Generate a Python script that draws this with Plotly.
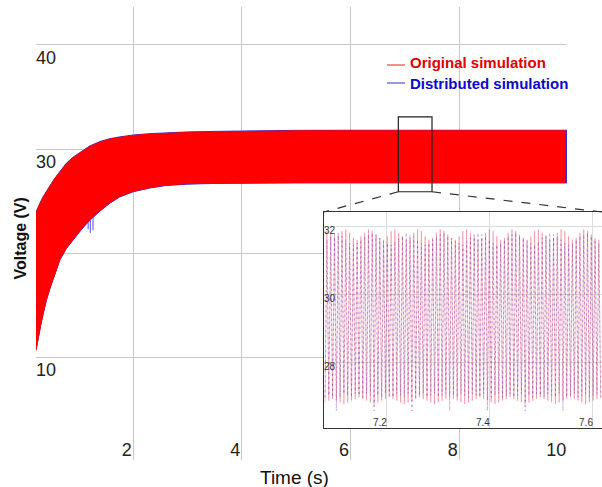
import numpy as np
import plotly.graph_objects as go

FONT = "Arial, Liberation Sans, sans-serif"

# ---------------- main chart data ----------------
x_ticks = [2, 4, 6, 8, 10]
x_tick_labels = ["2", "4", "6", "8", "10"]
y_ticks = [10, 20, 30, 40]
y_tick_labels = ["10", "20", "30", "40"]

# envelope of the "Original simulation" oscillation band
t_orig = [0.21, 0.25, 0.3, 0.35, 0.4, 0.47, 0.55, 0.65, 0.77, 0.9, 1.05, 1.2, 1.39, 1.57,
          1.75, 2.0, 2.3, 2.6, 3.0, 3.5, 4.0, 5.0, 6.0, 9.955]
orig_upper = [23.9, 24.4, 24.95, 25.45, 25.9, 26.45, 27.1, 27.8, 28.6, 29.2, 29.75, 30.25,
              30.68, 30.95, 31.12, 31.3, 31.43, 31.52, 31.6, 31.65, 31.7, 31.75, 31.76, 31.76]
orig_lower = [10.7, 11.9, 13.2, 14.4, 15.5, 16.7, 17.9, 19.4, 20.5, 21.4, 22.35, 23.2,
              24.1, 24.85, 25.45, 25.95, 26.3, 26.55, 26.68, 26.75, 26.78, 26.8, 26.8, 26.8]

# envelope of the "Distributed simulation" band (mostly hidden under red)
t_dist = [0.21, 0.25, 0.3, 0.35, 0.4, 0.47, 0.55, 0.65, 0.77, 0.9, 1.05, 1.2, 1.39, 1.57,
          1.75, 2.0, 2.3, 2.6, 3.0, 3.5, 4.0, 5.0, 6.0, 9.985]
dist_upper = [23.95, 24.45, 25.0, 25.5, 25.95, 26.5, 27.15, 27.85, 28.65, 29.25, 29.8, 30.3,
              30.73, 31.0, 31.17, 31.35, 31.48, 31.57, 31.65, 31.7, 31.75, 31.8, 31.81, 31.81]
dist_lower = [10.65, 11.85, 13.15, 14.35, 15.45, 16.65, 17.85, 19.35, 20.45, 21.35, 22.3, 23.15,
              24.05, 24.8, 25.4, 25.9, 26.25, 26.5, 26.63, 26.7, 26.73, 26.75, 26.75, 26.75]

# a few blue spikes poking out below the band
spike_t = [1.17, 1.21, 1.26]
spike_top = [23.2, 23.4, 23.6]
spike_bottom = [22.3, 21.95, 22.2]

# zoom window marked on the main chart
zoom_x = [6.88, 7.50]
zoom_y = [25.9, 33.1]

# ---------------- inset data ----------------
inset_x_ticks = [7.2, 7.4, 7.6]
inset_x_labels = ["7.2", "7.4", "7.6"]
inset_y_ticks = [28, 30, 32]
inset_y_labels = ["28", "30", "32"]
inset_t_start, inset_t_end = 7.08, 7.615

red_peak = [31.85, 31.8, 31.7, 31.75, 31.85, 31.9, 31.8, 31.65, 31.6, 31.7,
            31.8, 31.9, 31.85, 31.75, 31.65, 31.6, 31.7, 31.85, 31.9, 31.8,
            31.7, 31.6, 31.65, 31.8, 31.9, 31.85, 31.7, 31.6, 31.65, 31.8,
            31.9, 31.85, 31.75, 31.65, 31.6, 31.7, 31.85, 31.9, 31.8, 31.7,
            31.6, 31.65, 31.8, 31.9, 31.85, 31.7, 31.6, 31.65, 31.8, 31.9,
            31.85, 31.75, 31.65, 31.6, 31.7, 31.85, 31.9, 31.8, 31.7, 31.6,
            31.65, 31.8, 31.9, 31.85, 31.7, 31.6, 31.65, 31.8, 31.9, 31.85,
            31.75, 31.65, 31.6]
red_trough = [26.85, 26.9, 26.95, 26.9, 26.85, 26.8, 26.85, 26.9, 26.95, 27.0,
              26.95, 26.9, 26.85, 26.8, 26.85, 26.9, 26.95, 27.0, 26.95, 26.9,
              26.85, 26.8, 26.85, 26.9, 26.95, 27.0, 26.95, 26.9, 26.85, 26.8,
              26.85, 26.9, 26.95, 27.0, 26.95, 26.9, 26.85, 26.8, 26.85, 26.9,
              26.95, 27.0, 26.95, 26.9, 26.85, 26.8, 26.85, 26.9, 26.95, 27.0,
              26.95, 26.9, 26.85, 26.8, 26.85, 26.9, 26.95, 27.0, 26.95, 26.9,
              26.85, 26.8, 26.85, 26.9, 26.95, 27.0, 26.95, 26.9, 26.85, 26.8,
              26.85, 26.9, 26.95, 27.0]
blue_high = [31.6, 31.7, 31.75, 31.8, 31.7, 31.6, 31.5, 31.45, 31.5, 31.6,
             31.7, 31.75, 31.8, 31.75, 31.65, 31.55, 31.5, 31.45, 31.55, 31.65,
             31.7, 31.8, 31.75, 31.7, 31.6, 31.5, 31.45, 31.5, 31.6, 31.7,
             31.75, 31.8, 31.7, 31.65, 31.55, 31.5, 31.45, 31.55, 31.65, 31.75,
             31.8, 31.75, 31.7, 31.6, 31.5, 31.45, 31.5, 31.6, 31.7, 31.75,
             31.8, 31.7, 31.65, 31.55, 31.5, 31.45, 31.55, 31.65, 31.75, 31.8,
             31.75, 31.7, 31.6, 31.5, 31.45, 31.5, 31.6, 31.7, 31.75, 31.8,
             31.7, 31.6, 31.5]
blue_low = [27.0, 27.05, 27.0, 26.6, 27.0, 27.1, 27.05, 27.0, 27.1, 27.05,
            27.0, 27.1, 27.05, 26.6, 27.05, 27.0, 27.1, 27.05, 27.0, 27.1,
            27.05, 27.0, 27.1, 26.6, 27.0, 27.05, 27.1, 27.0, 27.05, 27.1,
            27.0, 27.05, 27.1, 26.6, 27.05, 27.0, 27.1, 27.05, 27.0, 27.1,
            27.05, 27.0, 27.1, 26.6, 27.0, 27.05, 27.1, 27.0, 27.05, 27.1,
            27.0, 27.05, 27.1, 26.6, 27.05, 27.0, 27.1, 27.05, 27.0, 27.1,
            27.05, 27.0, 27.1, 26.6, 27.0, 27.05, 27.1, 27.0, 27.05, 27.1,
            27.0, 27.05, 27.1, 26.9]

# ---------------- layout geometry ----------------
X_RANGE = [0.21, 9.985]
Y_RANGE = [0.13, 43.65]
X_DOM = [36 / 602, 567 / 602]
Y_DOM = [27 / 487, 480 / 487]
IX_RANGE = [7.078, 7.6175]
IY_RANGE = [26.10, 32.41]
IX_DOM = [324 / 602, 1.0]
IY_DOM = [59 / 487, 275 / 487]

# pixel offsets of the in-plot tick labels, converted to data units
PX_PER_Y = (Y_DOM[1] - Y_DOM[0]) * 487 / (Y_RANGE[1] - Y_RANGE[0])
PX_PER_X = (X_DOM[1] - X_DOM[0]) * 602 / (X_RANGE[1] - X_RANGE[0])
Y_LABEL_DROP = 5.5 / PX_PER_Y
X_LABEL_SHIFT = 1.5 / PX_PER_X


def interleave(lows, highs):
    out = []
    for i in range(len(highs)):
        out.append(lows[i])
        out.append(highs[i])
    out.append(lows[len(highs)])
    return out


red_inset = interleave(red_trough, red_peak)
blue_inset = interleave(blue_low, blue_high)
inset_t = np.linspace(inset_t_start, inset_t_end, len(red_inset))

fig = go.Figure()

# main y tick labels (drawn first so the band covers "20")
fig.add_trace(go.Scatter(
    x=[X_RANGE[0]] * len(y_ticks), y=[v - Y_LABEL_DROP for v in y_ticks], text=y_tick_labels,
    mode="text", textposition="bottom right", textfont=dict(size=18, color="#222", family=FONT),
    cliponaxis=False, showlegend=False, hoverinfo="skip"))

# distributed band (blue) underneath
fig.add_trace(go.Scatter(x=t_dist, y=dist_lower, mode="lines",
                         line=dict(color="#3030e0", width=1), showlegend=False, hoverinfo="skip"))
fig.add_trace(go.Scatter(x=t_dist, y=dist_upper, mode="lines", fill="tonexty",
                         fillcolor="#3030e0", line=dict(color="#3030e0", width=1),
                         name="Distributed simulation", showlegend=False, hoverinfo="skip"))
sx, sy = [], []
for t, a, b in zip(spike_t, spike_top, spike_bottom):
    sx += [t, t, None]
    sy += [a, b, None]
fig.add_trace(go.Scatter(x=sx, y=sy, mode="lines", line=dict(color="#5050f0", width=1),
                         showlegend=False, hoverinfo="skip"))

# original band (red)
fig.add_trace(go.Scatter(x=t_orig, y=orig_lower, mode="lines",
                         line=dict(color="#ff0000", width=1), showlegend=False, hoverinfo="skip"))
fig.add_trace(go.Scatter(x=t_orig, y=orig_upper, mode="lines", fill="tonexty",
                         fillcolor="#ff0000", line=dict(color="#ff0000", width=1),
                         name="Original simulation", showlegend=False, hoverinfo="skip"))

# main x tick labels
fig.add_trace(go.Scatter(
    x=[v - X_LABEL_SHIFT for v in x_ticks], y=[Y_RANGE[0]] * len(x_ticks), text=x_tick_labels,
    mode="text", textposition="top left", textfont=dict(size=18, color="#222", family=FONT),
    cliponaxis=False, showlegend=False, hoverinfo="skip"))

# ---------------- inset ----------------
fig.add_trace(go.Scatter(x=inset_t, y=red_inset, mode="lines", xaxis="x2", yaxis="y2",
                         line=dict(color="rgba(238,60,90,0.32)", width=1),
                         showlegend=False, hoverinfo="skip"))
fig.add_trace(go.Scatter(x=inset_t, y=blue_inset, mode="lines", xaxis="x2", yaxis="y2",
                         line=dict(color="rgba(90,60,200,0.45)", width=1, dash="2px,3px"),
                         showlegend=False, hoverinfo="skip"))
fig.add_trace(go.Scatter(
    x=[IX_RANGE[0]] * len(inset_y_ticks), y=inset_y_ticks, text=inset_y_labels, mode="text",
    xaxis="x2", yaxis="y2", textposition="bottom right",
    textfont=dict(size=10, color="#333", family=FONT), cliponaxis=False,
    showlegend=False, hoverinfo="skip"))
fig.add_trace(go.Scatter(
    x=inset_x_ticks, y=[IY_RANGE[0]] * len(inset_x_ticks), text=inset_x_labels, mode="text",
    xaxis="x2", yaxis="y2", textposition="top left",
    textfont=dict(size=10, color="#333", family=FONT), cliponaxis=False,
    showlegend=False, hoverinfo="skip"))


def to_paper_x(v):
    return X_DOM[0] + (v - X_RANGE[0]) / (X_RANGE[1] - X_RANGE[0]) * (X_DOM[1] - X_DOM[0])


def to_paper_y(v):
    return Y_DOM[0] + (v - Y_RANGE[0]) / (Y_RANGE[1] - Y_RANGE[0]) * (Y_DOM[1] - Y_DOM[0])


shapes = [
    # opaque inset background (covers main gridlines)
    dict(type="rect", xref="x2", yref="y2", x0=IX_RANGE[0], x1=IX_RANGE[1],
         y0=IY_RANGE[0], y1=IY_RANGE[1], fillcolor="white", line=dict(width=0), layer="below"),
    # zoom window
    dict(type="rect", xref="x", yref="y", x0=zoom_x[0], x1=zoom_x[1], y0=zoom_y[0], y1=zoom_y[1],
         line=dict(color="#222", width=1.2), layer="above"),
    # connectors
    dict(type="line", xref="paper", yref="paper", x0=to_paper_x(zoom_x[0]), y0=to_paper_y(zoom_y[0]),
         x1=IX_DOM[0], y1=IY_DOM[1], line=dict(color="#333", width=1.2, dash="dash")),
    dict(type="line", xref="paper", yref="paper", x0=to_paper_x(zoom_x[1]), y0=to_paper_y(zoom_y[0]),
         x1=IX_DOM[1], y1=IY_DOM[1], line=dict(color="#333", width=1.2, dash="dash")),
    # legend samples
    dict(type="line", xref="paper", yref="paper", x0=387 / 602, x1=405 / 602,
         y0=(487 - 65) / 487, y1=(487 - 65) / 487, line=dict(color="#e02020", width=1)),
    dict(type="line", xref="paper", yref="paper", x0=387 / 602, x1=405 / 602,
         y0=(487 - 83) / 487, y1=(487 - 83) / 487, line=dict(color="#3030c0", width=1)),
]

annotations = [
    dict(text="Original simulation", xref="paper", yref="paper", x=408 / 602, y=(487 - 63) / 487,
         xanchor="left", yanchor="middle", showarrow=False,
         font=dict(size=15, color="#e00000", family=FONT, weight="bold")),
    dict(text="Distributed simulation", xref="paper", yref="paper", x=408 / 602, y=(487 - 83) / 487,
         xanchor="left", yanchor="middle", showarrow=False,
         font=dict(size=15, color="#0a0ac8", family=FONT, weight="bold")),
    dict(text="Voltage (V)", xref="paper", yref="paper", x=19.5 / 602, y=(487 - 239) / 487,
         textangle=-90, xanchor="center", yanchor="middle", showarrow=False,
         font=dict(size=16, color="#111", family=FONT, weight="bold")),
    dict(text="Time (s)", xref="paper", yref="paper", x=294.5 / 602, y=(487 - 477) / 487,
         xanchor="center", yanchor="middle", showarrow=False,
         font=dict(size=19, color="#111", family=FONT)),
]

grid_main = "#c8c8c8"
fig.update_layout(
    width=602, height=487, margin=dict(l=0, r=0, t=0, b=0),
    paper_bgcolor="white", plot_bgcolor="white", showlegend=False,
    font=dict(family=FONT),
    xaxis=dict(domain=X_DOM, range=X_RANGE, tickvals=x_ticks, showticklabels=False,
               showgrid=True, gridcolor=grid_main, gridwidth=1, zeroline=False, showline=False,
               ticks="", anchor="y"),
    yaxis=dict(domain=Y_DOM, range=Y_RANGE, tickvals=y_ticks, showticklabels=False,
               showgrid=True, gridcolor=grid_main, gridwidth=1, zeroline=False, showline=False,
               ticks="", anchor="x"),
    xaxis2=dict(domain=IX_DOM, range=IX_RANGE, tickvals=inset_x_ticks, showticklabels=False,
                showgrid=True, gridcolor="#dcdcdc", zeroline=False, showline=True, mirror=True,
                linecolor="#333", linewidth=1, ticks="", anchor="y2"),
    yaxis2=dict(domain=IY_DOM, range=IY_RANGE, tickvals=inset_y_ticks, showticklabels=False,
                showgrid=True, gridcolor="#dcdcdc", zeroline=False, showline=True, mirror=False,
                linecolor="#333", linewidth=1, ticks="", anchor="x2"),
    shapes=shapes, annotations=annotations,
)

fig.write_html("out.html")
